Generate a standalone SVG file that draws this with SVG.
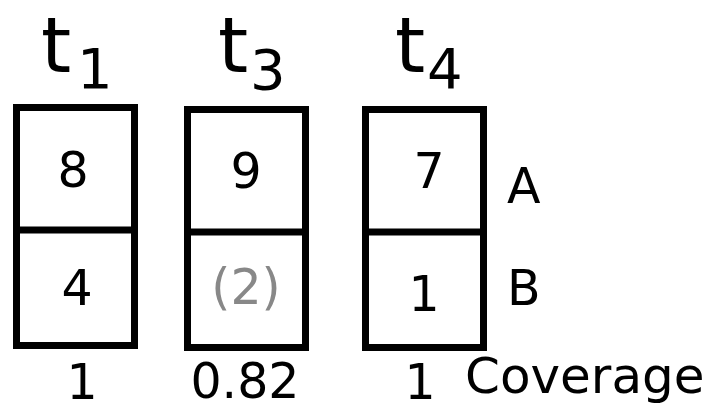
<svg xmlns="http://www.w3.org/2000/svg" width="715" height="417" viewBox="0 0 715 417">
<style>
text{font-family:"DejaVu Sans","Liberation Sans",sans-serif;fill:#000;text-anchor:middle}
.box{fill:#fff;stroke:#000;stroke-width:7}
.div{stroke:#000;stroke-width:7}
.t{font-size:77px;text-anchor:start}
.sub{font-size:56px;text-anchor:start}
.n{font-size:49px}
.g{fill:#888}
.lab{font-size:49px;text-anchor:start}
.cov{font-size:50px;text-anchor:start}
</style>
<rect width="715" height="417" fill="#fff"/>
<g id="t1">
<text class="t" x="41" y="72">t</text><text class="sub" x="77" y="88">1</text>
<rect class="box" x="16.5" y="107.5" width="118" height="238"/>
<line class="div" x1="16.5" y1="230" x2="134.5" y2="230"/>
<text class="n" x="73" y="187">8</text>
<text class="n" x="77" y="305">4</text>
<text class="n" x="82" y="399">1</text>
</g>
<g id="t3">
<text class="t" x="218" y="72">t</text><text class="sub" x="250" y="89">3</text>
<rect class="box" x="187.5" y="109.5" width="118" height="238"/>
<line class="div" x1="187.5" y1="232" x2="305.5" y2="232"/>
<text class="n" x="246" y="188">9</text>
<text class="n g" x="246" y="304">(2)</text>
<text class="n" x="245" y="398">0.82</text>
</g>
<g id="t4">
<text class="t" x="395" y="72">t</text><text class="sub" x="427" y="88">4</text>
<rect class="box" x="365.5" y="109.5" width="118" height="238"/>
<line class="div" x1="365.5" y1="232" x2="483.5" y2="232"/>
<text class="n" x="429" y="188">7</text>
<text class="n" x="424" y="311">1</text>
<text class="n" x="420" y="399">1</text>
</g>
<g id="labels">
<text class="lab" x="507" y="203">A</text>
<text class="lab" x="507" y="305">B</text>
<text class="cov" x="465" y="393">Coverage</text>
</g>
<g id="connectors"/>
</svg>
